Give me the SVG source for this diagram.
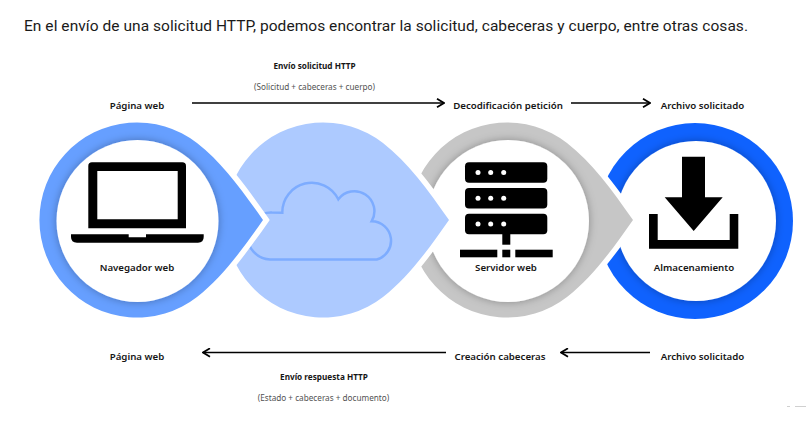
<svg xmlns="http://www.w3.org/2000/svg" width="811" height="436" viewBox="0 0 811 436">
<style>
text{font-family:"Noto Sans","Liberation Sans",sans-serif;fill:#161616;text-anchor:middle}
.t{font-family:Roboto,"Liberation Sans",sans-serif;font-size:15.5px;fill:#1a1a1a;text-anchor:start}
.l{font-size:9.700px;font-weight:600}
.h{font-size:8.200px;font-weight:700}
.s{font-size:8.200px;fill:#525252}
.c{stroke:#000;stroke-width:1.600;fill:none;marker-end:url(#a)}
.drop{stroke:#fff;stroke-width:11;stroke-linejoin:miter;stroke-miterlimit:6;paint-order:stroke}
.w{fill:#fff;filter:url(#sh)}
</style>
<defs>
<marker id="a" viewBox="0 0 10 10" refX="9" refY="5" markerWidth="10" markerHeight="10" markerUnits="userSpaceOnUse" orient="auto"><path d="M2 .8L9 5L2 9.200" fill="none" stroke="#000" stroke-width="1.800"/></marker>
<filter id="sh" x="-20%" y="-20%" width="140%" height="140%"><feDropShadow dx="0" dy="0" stdDeviation="4" flood-color="#000" flood-opacity=".3"/></filter>
<path id="d" d="M60 -77C85 -57.500 105 -30 126 0C105 30 85 57.500 60 77A97.600 97.600 0 1 1 60 -77Z"/>
</defs>
<rect width="811" height="436" fill="#fff"/>
<text class="t" x="24" y="31" textLength="724" lengthAdjust="spacing">En el envío de una solicitud HTTP, podemos encontrar la solicitud, cabeceras y cuerpo, entre otras cosas.</text>
<g id="node-almacenamiento">
<circle cx="695" cy="221" r="98" fill="#0f62fe"/>
<circle class="w" cx="696" cy="221" r="80"/>
<path d="M682 156.700H705V197.300H722.700L693.700 231L664.700 197.300H682Z" fill="#000"/>
<path d="M649 214H657.700V240H729.700V214H738.300V248.700H649Z" fill="#000"/>
<text class="l" x="694" y="270.500">Almacenamiento</text>
</g>
<g id="node-servidor">
<use href="#d" x="507" y="220" fill="#c6c6c6" class="drop"/>
<circle class="w" cx="508" cy="221" r="81"/>
<g fill="#000">
<rect x="465" y="162.300" width="82.300" height="20.400" rx="4"/>
<rect x="465" y="188" width="82.300" height="20.400" rx="4"/>
<rect x="465" y="213.700" width="82.300" height="20.600" rx="4"/>
<rect x="502.300" y="234" width="8" height="10.700"/>
<rect x="460" y="249.700" width="37.300" height="7.600"/>
<rect x="502.300" y="249.700" width="8" height="7.600"/>
<rect x="515.300" y="249.700" width="37.400" height="7.600"/>
</g>
<g fill="#fff">
<circle cx="478" cy="172.500" r="2.500"/><circle cx="490.700" cy="172.500" r="2.500"/><circle cx="503.700" cy="172.500" r="2.500"/>
<circle cx="478" cy="198.200" r="2.500"/><circle cx="490.700" cy="198.200" r="2.500"/><circle cx="503.700" cy="198.200" r="2.500"/>
<circle cx="478" cy="224" r="2.500"/><circle cx="490.700" cy="224" r="2.500"/><circle cx="503.700" cy="224" r="2.500"/>
</g>
<text class="l" x="506" y="270.500">Servidor web</text>
</g>
<g id="node-nube">
<use href="#d" x="323" y="220" fill="#adcaff" class="drop"/>
<path d="M270 259.500H376.700A19.500 19.500 0 0 0 371.700 221.200A20 20 0 0 0 338.300 199.300A29.500 29.500 0 0 0 282.300 212.700L272 212.500A23.500 23.500 0 0 0 270 259.500Z" fill="none" stroke="#7dacff" stroke-width="2.500"/>
</g>
<g id="node-navegador">
<use href="#d" x="137" y="220" fill="#669fff" class="drop"/>
<circle class="w" cx="137.500" cy="221" r="81"/>
<path fill-rule="evenodd" d="M92 162.300H182.300Q186 162.300 186 166V228.300H88.300V166Q88.300 162.300 92 162.300ZM97.300 171V219.300H177.700V171Z" fill="#000"/>
<path d="M71 234.300H128.700V237.300H146V234.300H203.700V237Q203.700 242.700 198 242.700H77Q71 242.700 71 237Z" fill="#000"/>
<text class="l" x="137" y="270.500">Navegador web</text>
</g>
<g id="connectors">
<line class="c" x1="192" y1="103" x2="444" y2="103"/>
<line class="c" x1="571" y1="103" x2="650" y2="103"/>
<line class="c" x1="446" y1="352.500" x2="203" y2="352.500"/>
<line class="c" x1="650" y1="352.500" x2="561" y2="352.500"/>
</g>
<g id="labels">
<text class="l" x="137" y="108.500">Página web</text>
<text class="l" x="508" y="108.500">Decodificación petición</text>
<text class="l" x="702.500" y="108.500">Archivo solicitado</text>
<text class="h" x="314.500" y="69">Envío solicitud HTTP</text>
<text class="s" x="314.500" y="90">(Solicitud + cabeceras + cuerpo)</text>
<text class="l" x="137" y="359.500">Página web</text>
<text class="l" x="500" y="359.500">Creación cabeceras</text>
<text class="l" x="702.500" y="359.500">Archivo solicitado</text>
<text class="h" x="324" y="380">Envío respuesta HTTP</text>
<text class="s" x="323.500" y="401">(Estado + cabeceras + documento)</text>
</g>
<path d="M787 406.500H790M795 406.500H806" stroke="#d0d0d0" stroke-width="1"/>
</svg>
